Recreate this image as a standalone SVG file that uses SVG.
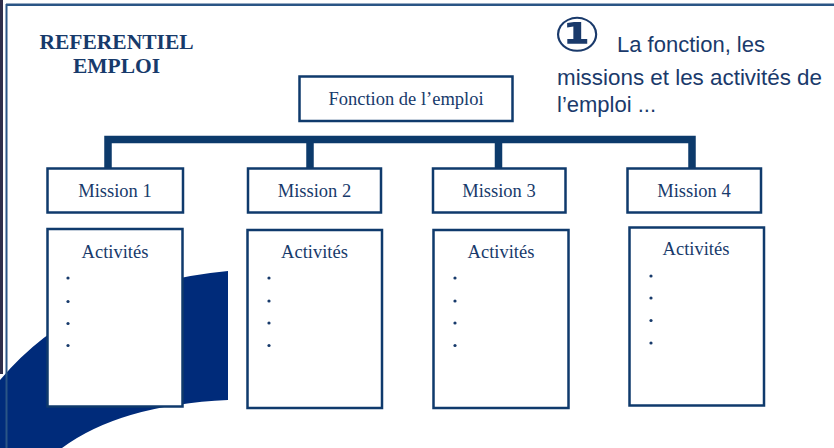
<svg xmlns="http://www.w3.org/2000/svg" width="834" height="448" viewBox="0 0 834 448">
<style>
.box{fill:#fff;stroke:#0f3a6c;stroke-width:2.5}
.lbl{font-family:"Liberation Serif","Times New Roman",serif;font-size:18.5px;fill:#173a6b;text-anchor:middle}
.title{font-family:"Liberation Serif","Times New Roman",serif;font-size:21.5px;font-weight:bold;fill:#173a6b;text-anchor:middle}
.note{font-family:"Comic Sans MS","Liberation Sans",sans-serif;font-size:22px;fill:#1a3a6b}
.dot{fill:#173a6b}
.conn{fill:none;stroke:#0c3a6b;stroke-width:7.5;stroke-linejoin:miter}
</style>
<rect width="834" height="448" fill="#fff"/>
<rect x="0" y="0" width="3" height="374" fill="#2f2e4a"/>
<path d="M0 380 Q80 285 228 271 L228 400 Q120 405 62 448 L0 448 Z" fill="#002b7a"/>
<line x1="6" y1="4.7" x2="834" y2="4.7" stroke="#2a5585" stroke-width="2.5"/>
<line x1="6.5" y1="4" x2="6.5" y2="448" stroke="#2a5585" stroke-width="2"/>

<g id="title">
<text class="title" x="116.5" y="48.5">REFERENTIEL</text>
<text class="title" x="116.5" y="72.5">EMPLOI</text>
</g>

<g id="note">
<text x="0" y="0" transform="translate(577 51) scale(1.15 1)" font-family="DejaVu Sans,'Noto Sans CJK SC',sans-serif" font-size="48" font-weight="bold" fill="#1a3a6b" text-anchor="middle">①</text>
<text class="note" x="617" y="52">La fonction, les</text>
<text class="note" x="557" y="85" textLength="265" lengthAdjust="spacingAndGlyphs">missions et les activités de</text>
<text class="note" x="557" y="112">l’emploi ...</text>
</g>

<g id="connectors">
<path class="conn" d="M108 168 V139.5 H692 V168"/>
<path class="conn" d="M310 139.5 V168"/>
<path class="conn" d="M498.5 139.5 V168"/>
</g>

<g id="fonction">
<rect class="box" x="299.5" y="76.5" width="213" height="44.5"/>
<text class="lbl" x="406" y="105">Fonction de l’emploi</text>
</g>

<g id="mission1">
<rect class="box" x="47.5" y="168.5" width="135.5" height="44"/>
<text class="lbl" x="115" y="197">Mission 1</text>
</g>
<g id="mission2">
<rect class="box" x="248" y="168.5" width="133" height="44"/>
<text class="lbl" x="314.5" y="197">Mission 2</text>
</g>
<g id="mission3">
<rect class="box" x="433" y="168.5" width="132.5" height="44"/>
<text class="lbl" x="499" y="197">Mission 3</text>
</g>
<g id="mission4">
<rect class="box" x="627.5" y="168.5" width="133.5" height="44"/>
<text class="lbl" x="694" y="197">Mission 4</text>
</g>

<g id="activites1">
<rect class="box" x="47.5" y="229" width="135" height="177.5"/>
<text class="lbl" x="115" y="258">Activités</text>
<circle class="dot" cx="68" cy="278" r="1.6"/>
<circle class="dot" cx="68" cy="301.5" r="1.6"/>
<circle class="dot" cx="68" cy="323.5" r="1.6"/>
<circle class="dot" cx="68" cy="345.5" r="1.6"/>
</g>
<g id="activites2">
<rect class="box" x="247.5" y="230" width="134.5" height="178"/>
<text class="lbl" x="314.5" y="258">Activités</text>
<circle class="dot" cx="269" cy="278" r="1.6"/>
<circle class="dot" cx="269" cy="301" r="1.6"/>
<circle class="dot" cx="269" cy="323" r="1.6"/>
<circle class="dot" cx="269" cy="345.5" r="1.6"/>
</g>
<g id="activites3">
<rect class="box" x="433.5" y="230" width="135" height="178"/>
<text class="lbl" x="501" y="258">Activités</text>
<circle class="dot" cx="455" cy="278" r="1.6"/>
<circle class="dot" cx="455" cy="301" r="1.6"/>
<circle class="dot" cx="455" cy="323" r="1.6"/>
<circle class="dot" cx="455" cy="345.5" r="1.6"/>
</g>
<g id="activites4">
<rect class="box" x="629.5" y="227.5" width="134.5" height="178"/>
<text class="lbl" x="696" y="255">Activités</text>
<circle class="dot" cx="651" cy="276" r="1.6"/>
<circle class="dot" cx="651" cy="298" r="1.6"/>
<circle class="dot" cx="651" cy="320.5" r="1.6"/>
<circle class="dot" cx="651" cy="343" r="1.6"/>
</g>
</svg>
